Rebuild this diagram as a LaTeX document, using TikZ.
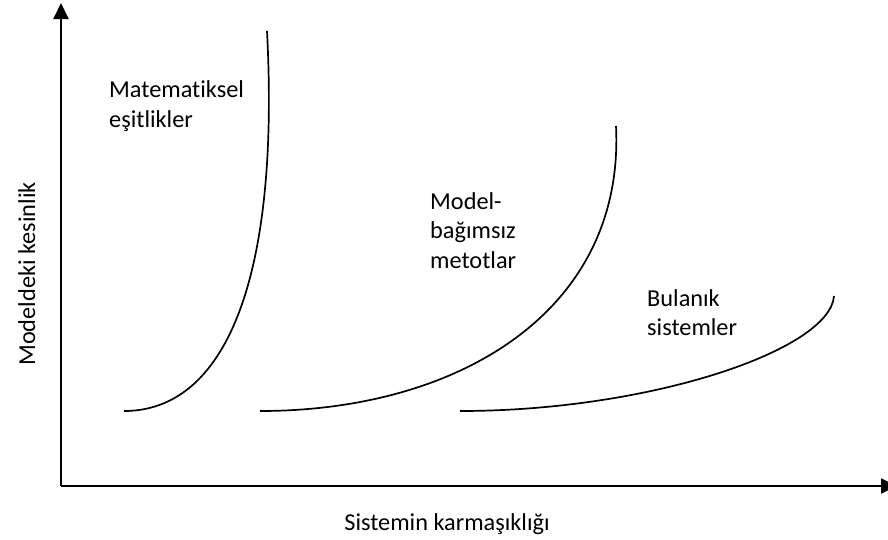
\documentclass[tikz,border=0pt]{standalone}
\usepackage{fontspec}
\setmainfont[Ligatures=NoCommon]{Carlito}
\usetikzlibrary{arrows.meta}
\begin{document}
\begin{tikzpicture}[x=1pt,y=-1pt,
  axis/.style={line width=2pt,-{Triangle[length=16pt,width=15pt]}},
  curve/.style={line width=1.7pt},
  lbl/.style={anchor=base west,inner sep=0pt,font=\fontsize{24.3}{30}\selectfont}]
\clip (0,0) rectangle (888,539);
\fill[white] (0,0) rectangle (888,539);

% axes
\coordinate (O) at (61,486);
\coordinate (ytip) at (61,3);
\coordinate (xtip) at (897,486);
\draw[axis] (O) -- (ytip);
\draw[axis] (O) -- (xtip);

% the three curves
\draw[curve] (124,411) .. controls (225,411) and (280,280) .. (267,31);
\draw[curve] (260,411) .. controls (460,411) and (625,310) .. (616,126);
\draw[curve] (460,411) .. controls (650,411) and (830,350) .. (834,296);

% labels
\node[lbl] (m1) at (109,97) {Matematiksel};
\node[lbl] (m2) at (109,127) {eşitlikler};
\node[lbl] (b1) at (430,209) {Model-};
\node[lbl] (b2) at (430,238.5) {bağımsız};
\node[lbl] (b3) at (430,268) {metotlar};
\node[lbl] (f1) at (647,306) {Bulanık};
\node[lbl] (f2) at (647,335) {sistemler};
\node[lbl,anchor=base] (xl) at (447,530.5) {Sistemin karmaşıklığı};
\node[lbl,anchor=base,rotate=90] (yl) at (35,274) {Modeldeki kesinlik};
\end{tikzpicture}
\end{document}
